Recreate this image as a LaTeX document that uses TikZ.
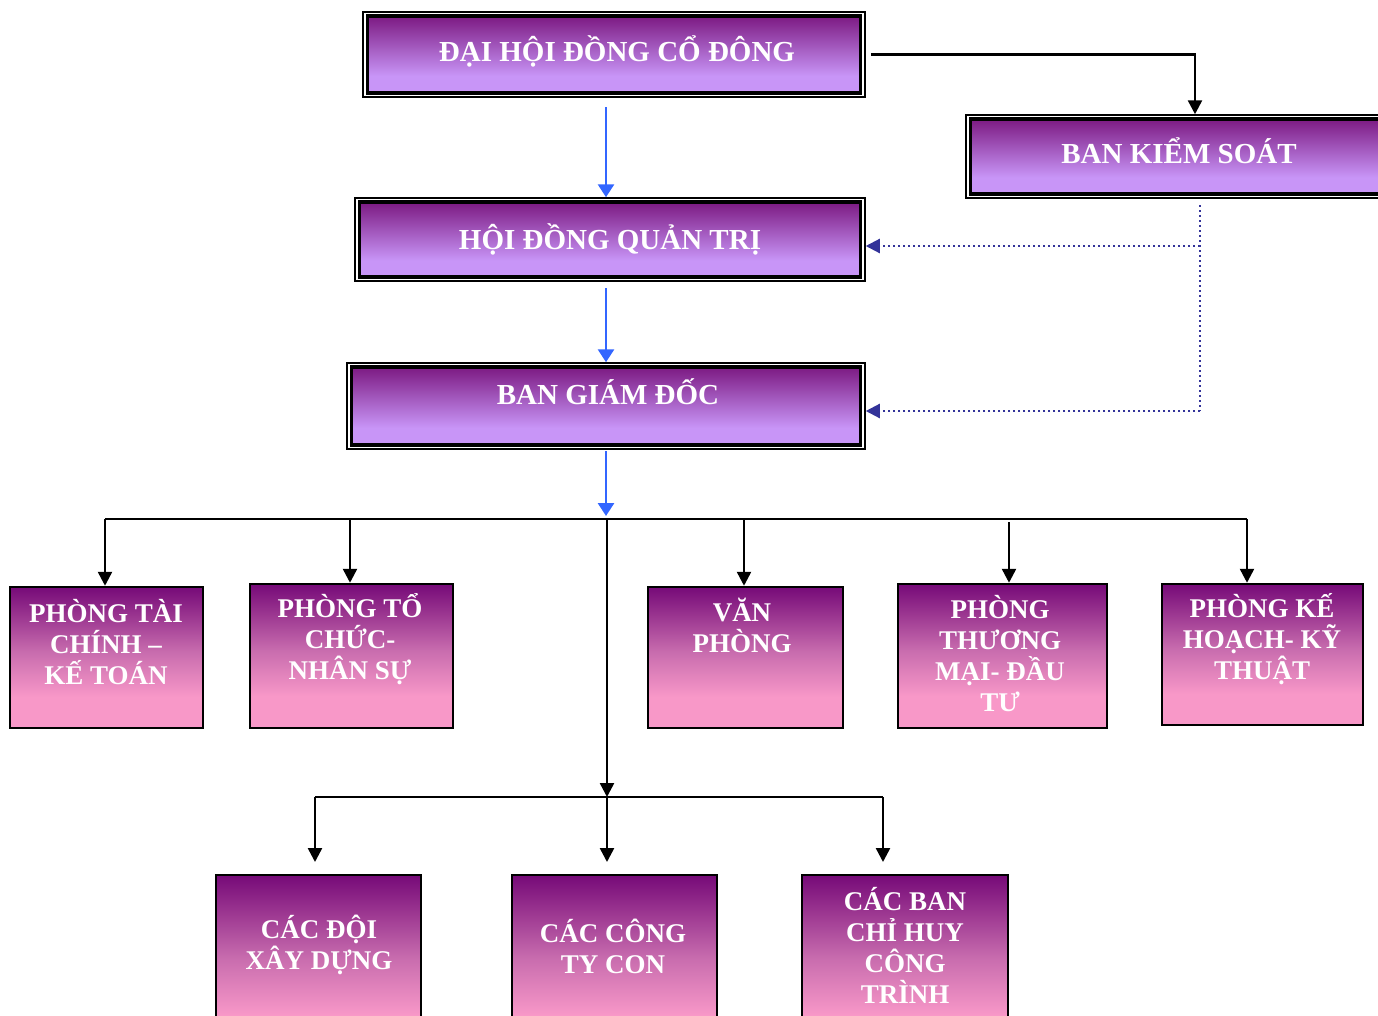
\documentclass[tikz,border=0pt]{standalone}
\usepackage{fontspec}
\setmainfont{Liberation Serif}
\usetikzlibrary{arrows.meta}
\definecolor{tpur}{HTML}{7C1A82}
\definecolor{tlav}{HTML}{C895F7}
\definecolor{bpur}{HTML}{760A78}
\definecolor{bmid}{HTML}{C86CAE}
\definecolor{bpink}{HTML}{F898C8}
\definecolor{arrblue}{HTML}{3366FF}
\definecolor{navy}{HTML}{333399}
\pgfdeclareverticalshading{topshade}{100bp}{color(0bp)=(tlav); color(25bp)=(tlav); color(36bp)=(tlav); color(75bp)=(tpur); color(100bp)=(tpur)}
\pgfdeclareverticalshading{deptshade}{100bp}{color(0bp)=(bpink); color(25bp)=(bpink); color(36bp)=(bpink); color(52bp)=(bmid); color(75bp)=(bpur); color(100bp)=(bpur)}
\begin{document}
\begin{tikzpicture}[x=1pt,y=-1pt,
  frame/.style={draw=black, line width=1.5pt, fill=white, inner sep=0pt},
  topbox/.style={draw=black, line width=3.5pt, shading=topshade, inner sep=0pt},
  dept/.style={draw=black, line width=2.5pt, shading=deptshade, inner sep=0pt},
  lbl/.style={text=white, font=\bfseries\fontsize{29}{31}\selectfont, align=center, inner sep=0pt},
  dlbl/.style={text=white, font=\bfseries\fontsize{27}{31}\selectfont, align=center, inner sep=0pt},
  arr/.style={draw=black, line width=2.5pt, -{Triangle[width=14pt,length=14pt]}},
  wire/.style={draw=black, line width=2.5pt},
  barr/.style={draw=arrblue, line width=2.8pt, -{Triangle[width=16pt,length=13pt]}},
  darr/.style={draw=navy, line width=2.2pt, dash pattern=on 2pt off 3pt, -{Triangle[width=14pt,length=14pt]}},
  dwire/.style={draw=navy, line width=2.2pt, dash pattern=on 2pt off 3pt}
]
\clip (0,0) rectangle (1378,1015);
\fill[white] (0,0) rectangle (1378,1015);

% top boxes
\node[frame, minimum width=502pt, minimum height=85pt] (Af) at (614,54.5) {};
\node[topbox, minimum width=493pt, minimum height=77pt] (A) at (614,54.5) {};
\node[lbl] (At) at (617,51) {ĐẠI HỘI ĐỒNG CỔ ĐÔNG};

\node[frame, minimum width=424pt, minimum height=83pt] (Bf) at (1178,156.5) {};
\node[topbox, minimum width=415pt, minimum height=75pt] (B) at (1178,156.5) {};
\node[lbl] (Bt) at (1179,151) {BAN KIỂM SOÁT};

\node[frame, minimum width=510pt, minimum height=83pt] (Cf) at (610,239.5) {};
\node[topbox, minimum width=501pt, minimum height=75pt] (C) at (610,239.5) {};
\node[lbl] (Ct) at (610,239) {HỘI ĐỒNG QUẢN TRỊ};

\node[frame, minimum width=518pt, minimum height=86pt] (Df) at (606,406) {};
\node[topbox, minimum width=509pt, minimum height=78pt] (D) at (606,406) {};
\node[lbl] (Dt) at (608,392) {BAN GIÁM ĐỐC};

% department boxes
\node[dept, minimum width=193pt, minimum height=141pt] (M1) at (106.5,657.5) {};
\node[dlbl] (M1t) at (106,642) {PHÒNG TÀI\\CHÍNH –\\KẾ TOÁN};
\node[dept, minimum width=203pt, minimum height=144pt] (M2) at (351.5,656) {};
\node[dlbl] (M2t) at (350,639) {PHÒNG TỔ\\CHỨC-\\NHÂN SỰ};
\node[dept, minimum width=195pt, minimum height=141pt] (M3) at (745.5,657.5) {};
\node[dlbl] (M3t) at (742,625) {VĂN\\PHÒNG};
\node[dept, minimum width=209pt, minimum height=144pt] (M4) at (1002.5,656) {};
\node[dlbl] (M4t) at (1000,654) {PHÒNG\\THƯƠNG\\MẠI- ĐẦU\\TƯ};
\node[dept, minimum width=201pt, minimum height=141pt] (M5) at (1262.5,654.5) {};
\node[dlbl] (M5t) at (1262,639) {PHÒNG KẾ\\HOẠCH- KỸ\\THUẬT};

% bottom boxes
\node[dept, minimum width=205pt, minimum height=180pt] (B1) at (318.5,965) {};
\node[dlbl] (B1t) at (319,945) {CÁC ĐỘI\\XÂY DỰNG};
\node[dept, minimum width=205pt, minimum height=180pt] (B2) at (614.5,965) {};
\node[dlbl] (B2t) at (613,946) {CÁC CÔNG\\TY CON};
\node[dept, minimum width=206pt, minimum height=180pt] (B3) at (905,965) {};
\node[dlbl] (B3t) at (905,945) {CÁC BAN\\CHỈ HUY\\CÔNG\\TRÌNH};

% blue connectors
\coordinate (b1) at (606,107);
\coordinate (b2) at (606,288);
\coordinate (b3) at (606,451);
\coordinate (bus) at (606,516);
\draw[barr] (b1) -- (b1 |- Cf.north);
\draw[barr] (b2) -- (b2 |- Df.north);
\draw[barr] (b3) -- (bus);

% to Ban kiem soat
\coordinate (kx) at (1195,0);
\draw[arr] ([xshift=5pt]Af.east) -| (kx |- Bf.north);

% dotted control lines
\coordinate (d0) at (1200,205);
\coordinate (d1) at (1200,246);
\coordinate (d2) at (1200,411);
\draw[dwire] (d0) -- (d2);
\draw[darr] (d1) -- (d1 -| Cf.east);
\draw[darr] (d2) -- (d2 -| Df.east);

% department bus
\coordinate (busL) at (105,519);
\coordinate (busR) at (1247,519);
\coordinate (m2x) at (350,519);
\coordinate (m3x) at (744,519);
\coordinate (m4x) at (1009,522);
\draw[wire] (busL) -- (busR);
\draw[arr] (busL) -- (busL |- M1.north);
\draw[arr] (m2x) -- (m2x |- M2.north);
\draw[arr] (m3x) -- (m3x |- M3.north);
\draw[arr] (m4x) -- (m4x |- M4.north);
\draw[arr] (busR) -- (busR |- M5.north);

% trunk to lower bus
\coordinate (t0) at (607,519);
\coordinate (t1) at (607,797);
\draw[arr] (t0) -- (t1);
\coordinate (lL) at (315,797);
\coordinate (lR) at (883,797);
\coordinate (tip) at (0,862);
\draw[wire] (lL) -- (lR);
\draw[arr] (lL) -- (lL |- tip);
\draw[arr] (t1) -- (t1 |- tip);
\draw[arr] (lR) -- (lR |- tip);
\end{tikzpicture}
\end{document}
